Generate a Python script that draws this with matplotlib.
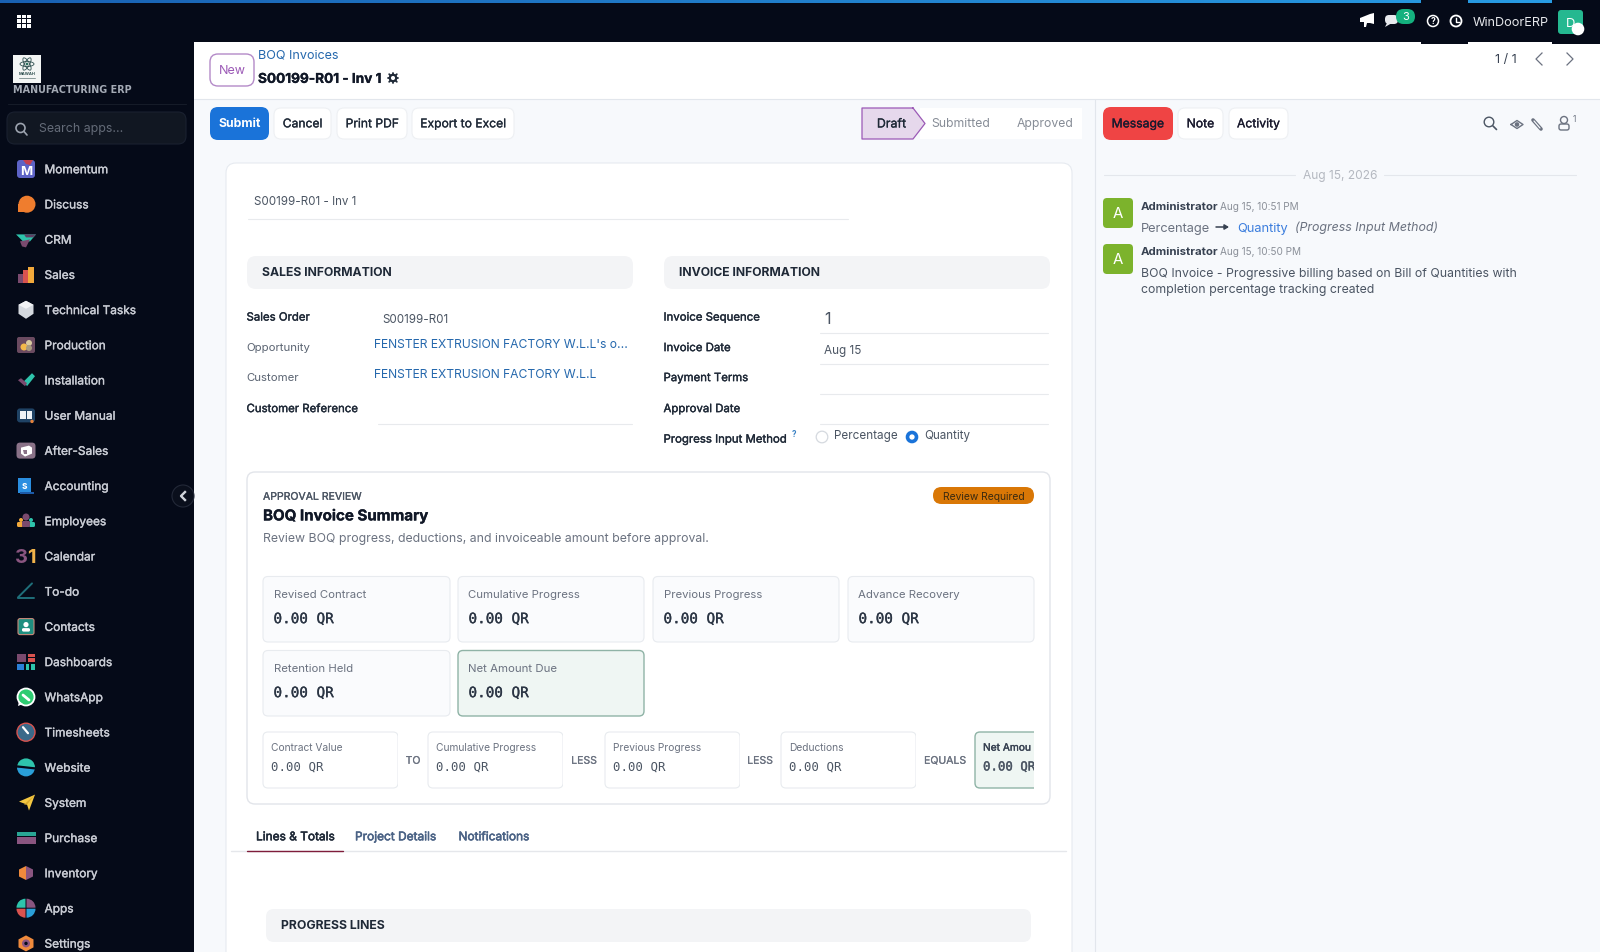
import matplotlib
matplotlib.use("Agg")
import matplotlib.pyplot as plt
import matplotlib.patheffects as pe
import numpy as np
from matplotlib.patches import FancyBboxPatch, Circle, Ellipse, Polygon, Rectangle, Wedge

plt.rcParams["font.family"] = ["Inter", "DejaVu Sans"]

# ---- content ----
SIDEBAR_ITEMS = ["Momentum", "Discuss", "CRM", "Sales", "Technical Tasks", "Production",
                 "Installation", "User Manual", "After-Sales", "Accounting", "Employees",
                 "Calendar", "To-do", "Contacts", "Dashboards", "WhatsApp", "Timesheets",
                 "Website", "System", "Purchase", "Inventory", "Apps", "Settings"]
TOOLBAR_BUTTONS = ["Cancel", "Print PDF", "Export to Excel"]
STEPS = ["Draft", "Submitted", "Approved"]
CHAT_BUTTONS = ["Message", "Note", "Activity"]
SALES_LABELS = ["Sales Order", "Opportunity", "Customer", "Customer Reference"]
SALES_VALUES = ["S00199-R01", "FENSTER EXTRUSION FACTORY W.L.L's o...",
                "FENSTER EXTRUSION FACTORY W.L.L", ""]
INVOICE_LABELS = ["Invoice Sequence", "Invoice Date", "Payment Terms", "Approval Date",
                  "Progress Input Method"]
INVOICE_VALUES = ["1", "Aug 15", "", ""]
RADIO_OPTIONS = ["Percentage", "Quantity"]
SUMMARY_LABELS = ["Revised Contract", "Cumulative Progress", "Previous Progress",
                  "Advance Recovery", "Retention Held", "Net Amount Due"]
SUMMARY_VALUES = ["0.00 QR", "0.00 QR", "0.00 QR", "0.00 QR", "0.00 QR", "0.00 QR"]
FLOW_LABELS = ["Contract Value", "Cumulative Progress", "Previous Progress", "Deductions", "Net Amou"]
FLOW_VALUES = ["0.00 QR", "0.00 QR", "0.00 QR", "0.00 QR", "0.00 QR"]
FLOW_OPERATORS = ["TO", "LESS", "LESS", "EQUALS"]
TABS = ["Lines & Totals", "Project Details", "Notifications"]

DARK = "#050a18"
INK = "#1f2937"
GREY = "#6b7280"
MONO = "DejaVu Sans Mono"

fig = plt.figure(figsize=(16, 9.52), dpi=100, facecolor="#f7f9fc")
ax = fig.add_axes([0, 0, 1, 1])
ax.set_axis_off()


def px(size):
    return size * 72 / 100


def box(x0, y0, x1, y1, r=0, fc="white", ec="none", lw=0.8, z=1, **kw):
    if r:
        p = FancyBboxPatch((x0, y0), x1 - x0, y1 - y0, boxstyle=f"round,pad=0,rounding_size={r}",
                           fc=fc, ec=ec, lw=lw, zorder=z, **kw)
    else:
        p = Rectangle((x0, y0), x1 - x0, y1 - y0, fc=fc, ec=ec, lw=lw, zorder=z, **kw)
    ax.add_patch(p)
    return p


# y is the visual middle of the capitals, baseline sits a bit below it
# stroke fakes the medium weights that Inter does not give us here
def txt(x, y, s, size=13, color=INK, weight="normal", ha="left", z=5, stroke=0, **kw):
    t = ax.text(x, y + 0.36 * size, s, fontsize=px(size), color=color, fontweight=weight, ha=ha,
                va="baseline", zorder=z, **kw)
    if stroke:
        t.set_path_effects([pe.withStroke(linewidth=stroke, foreground=color)])
    return t


def line(x0, x1, y0, y1=None, color="#e5e7eb", lw=0.8, z=2):
    ax.plot([x0, x1], [y0, y0 if y1 is None else y1], color=color, lw=lw, zorder=z,
            solid_capstyle="round")


def poly(pts, color, ox=0, oy=0, z=6):
    ax.add_patch(Polygon([(ox + a, oy + b) for a, b in pts], closed=True, fc=color, ec="none", zorder=z))


def circ(x, y, r, fc, ec="none", lw=1, z=6):
    ax.add_patch(Circle((x, y), r, fc=fc, ec=ec, lw=lw, zorder=z))


# ---- frame ----
box(194, 42, 1600, 99, fc="white")
line(194, 1600, 99, color="#e2e6ec")
box(0, 0, 194, 952, fc=DARK, z=3)
box(0, 0, 1600, 42, fc=DARK, z=3)
box(1421, 42, 1468, 44, fc=DARK, z=3)
box(1552, 42, 1600, 44, fc=DARK, z=3)

# progress strip on top of the navbar
ramp = np.linspace(0, 1, 256)[None, :, None]
start, stop = np.array([0.10, 0.38, 0.70]), np.array([0.16, 0.62, 0.90])
ax.imshow(start + (stop - start) * ramp, extent=(0, 1600, 3, 0), aspect="auto", zorder=4)
box(1421, 0, 1468, 3, fc=DARK, z=4)
box(1552, 0, 1600, 3, fc=DARK, z=4)

# app grid
for i in range(3):
    for j in range(3):
        box(17.3 + i * 4.9, 14.5 + j * 4.9, 20.9 + i * 4.9, 18.1 + j * 4.9, fc="white", z=6)

# navbar icons
poly([(-7, -2), (3, -6), (7, -7), (7, 4), (3, 3), (0, 3), (-1, 7), (-3, 7), (-3, 2), (-7, 2)], "white", 1367, 20)
ax.add_patch(FancyBboxPatch((1385, 15), 13, 9, boxstyle="round,pad=0,rounding_size=4", fc="#e8eaee", ec="none", zorder=6))
poly([(1387, 23), (1385, 27), (1392, 23)], "#e8eaee")
box(1396, 9, 1415, 24, r=7.5, fc="#14b17e", z=7)
txt(1405.5, 16.5, "3", 11, "white", ha="center", z=8)
circ(1433, 21, 5.5, "none", "white", 1.1)
txt(1433, 21, "?", 8.5, "white", "bold", ha="center", z=7)
circ(1456, 21, 5.5, "none", "white", 1.3)
ax.plot([1456, 1456, 1459], [17.5, 21.5, 21.5], color="white", lw=1, zorder=7)
txt(1473, 21, "WinDoorERP", 12.7, "#e5e7eb", z=6)
box(1558, 10, 1583, 34, r=3, fc="#25b890", z=6)
txt(1571, 22, "D", 13, "white", ha="center", z=7)
circ(1578, 29, 6.3, "white", z=8)

# logo
box(13, 55, 41, 83, fc="#f3f5f4", z=5)
for ang in [0, 60, 120]:
    ax.add_patch(Ellipse((27, 64), 14, 5, angle=ang, fc="none", ec="#2f4f4f", lw=0.6, zorder=6))
circ(27, 64, 1.4, "#2f6f5f", z=6)
txt(27, 74, "MAWAH", 4, "#2f4f4f", "bold", ha="center", z=6)
line(19, 35, 78, color="#8a9a9a", lw=0.7, z=6)
txt(13, 90, "MANUFACTURING ERP", 9.6, "#a4aab5", "bold", z=6, family="DejaVu Sans")
line(8, 186, 104, color="#151b28", z=5)
box(7, 112, 186, 144, r=8, fc="#111722", ec="#1a2130", z=5)
circ(20.5, 128, 4.5, "none", "#9ca3af", 1.2)
line(24, 27, 131.5, 135, color="#9ca3af", lw=1.2, z=6)
txt(39, 128, "Search apps...", 12.4, "#646b78", z=6)


# ---- sidebar icons, all relative to their centre ----
def ic_momentum(x, y):
    box(x - 9, y - 9, x + 9, y + 9, r=3, fc="#5d63c6", z=6)
    poly([(-3, -9), (7, -9), (4, -4), (0, -5)], "#c2404f", x, y)
    txt(x, y + 1.5, "M", 13, "white", "bold", ha="center", z=7)


def ic_discuss(x, y):
    circ(x + 1, y, 8.5, "#ef7d2e")
    box(x - 8, y, x, y + 8, fc="#ef7d2e", z=6)


def ic_crm(x, y):
    poly([(-10, -5), (10, -5), (4, 2), (-3, 2)], "#2ec4ac", x, y)
    poly([(-6, 2), (4, 0), (0, 8), (-4, 7)], "#7a4a6e", x, y)
    poly([(-2, -5), (10, -5), (7, -2), (0, -2)], "#5d3f62", x, y)


def ic_sales(x, y):
    box(x - 8, y - 1, x - 3, y + 8, fc="#7a4a6e", z=6)
    box(x - 3, y - 5, x + 2, y + 8, fc="#d9534f", z=6)
    box(x + 2, y - 8, x + 8, y + 8, fc="#f2a93b", z=6)


def ic_tech(x, y):
    poly([(0, -9), (7.5, -5), (7.5, 4), (0, 9), (-7.5, 4), (-7.5, -5)], "#d5d9df", x, y)
    poly([(0, -9), (7.5, -5), (0, -1), (-7.5, -5)], "#f2f3f5", x, y)


def ic_production(x, y):
    box(x - 9, y - 8, x + 9, y + 8, r=2, fc="#6a4a60", z=6)
    circ(x - 2, y + 2, 3.5, "#f2b84b")
    circ(x + 3, y - 2, 3, "#d8c9a0")
    circ(x + 3, y + 3, 3, "#a89a80")


def ic_install(x, y):
    poly([(-2, 1), (6, -7), (9, -4), (1, 6)], "#2ec4ac", x, y)
    poly([(-8, 0), (-5, -2), (1, 3), (-1, 6)], "#7a4a6e", x, y)


def ic_manual(x, y):
    box(x - 9, y - 7, x + 9, y + 7, r=3, fc="#1f4264", z=6)
    box(x - 6, y - 4, x - 0.5, y + 4, fc="#eef2f6", z=7)
    box(x + 0.5, y - 4, x + 6, y + 4, fc="#eef2f6", z=7)
    circ(x + 6, y + 6, 1.7, "#e6813a", z=8)


def ic_aftersales(x, y):
    box(x - 9.5, y - 8, x + 9.5, y + 8, r=3.5, fc="#8a7288", z=6)
    poly([(-5, -3), (3, -5), (6, -3), (6, 3), (-1, 6), (-5, 3)], "white", x, y, z=7)
    poly([(-3, -1), (1, -1), (1, 3), (-2, 3)], "#8a7288", x, y, z=8)


def ic_accounting(x, y):
    box(x - 8, y - 8, x + 5, y + 7, fc="#2a8ee0", z=6)
    box(x - 6, y + 6, x + 8, y + 8, fc="#1c5aa8", z=6)
    txt(x - 2, y, "s", 10, "white", "bold", ha="center", z=7)


def ic_employees(x, y):
    circ(x, y - 4, 3.5, "#7a4a6e")
    circ(x - 5, y - 1, 2, "#f2a93b")
    circ(x + 5, y - 1, 2, "#2ec4ac")
    box(x - 9, y + 1, x - 3, y + 6, r=1.5, fc="#f2a93b", z=6)
    box(x + 3, y + 1, x + 9, y + 6, r=1.5, fc="#2ec4ac", z=6)
    box(x - 4, y, x + 4, y + 6, r=1.5, fc="#7a4a6e", z=7)


def ic_calendar(x, y):
    txt(x - 4.5, y, "3", 20, "#8a5580", "bold", ha="center", z=6)
    txt(x + 5.5, y, "1", 20, "#f0b24a", "bold", ha="center", z=6)


def ic_todo(x, y):
    line(x - 8, x + 6, y + 6, y - 8, color="#1f6f7a", lw=1.4, z=6)
    line(x - 8, x + 8, y + 7, color="#1f6f7a", lw=1.4, z=6)


def ic_contacts(x, y):
    box(x - 8, y - 8, x + 8, y + 8, r=2, fc="#1f8f80", ec="#c98a7a", z=6)
    circ(x, y - 2, 2.6, "white", z=7)
    box(x - 4, y + 1.5, x + 4, y + 5, r=1.5, fc="white", z=7)


def ic_dashboards(x, y):
    box(x - 9, y - 8, x + 0, y + 0, fc="#7a4a6e", z=6)
    box(x + 2, y - 8, x + 9, y - 5, fc="#d9534f", z=6)
    box(x + 2, y - 3.5, x + 9, y + 0, fc="#d9534f", z=6)
    box(x - 9, y + 2, x - 2, y + 8, fc="#2a7fd8", z=6)
    box(x, y + 2, x + 3, y + 8, fc="#2ec4ac", z=6)
    box(x + 5, y + 2, x + 9, y + 8, fc="#2ec4ac", z=6)


def ic_whatsapp(x, y):
    circ(x, y, 8.5, "#2ecc71", "white", 1.3)
    poly([(-8, 9), (-7, 4), (-3, 7)], "white", x, y)
    line(x - 3, x + 3, y - 2, y + 3, color="white", lw=2, z=7)


def ic_timesheets(x, y):
    circ(x, y, 9, "#3a6a8a", "#d9534f", 1)
    line(x - 3, x + 2, y - 5, y + 1, color="white", lw=1.6, z=7)


def ic_website(x, y):
    ax.add_patch(Wedge((x, y), 9, 180, 360, fc="#2ec4ac", zorder=6))
    ax.add_patch(Wedge((x, y), 9, 0, 180, fc="#2a9fd8", zorder=6))
    line(x - 9, x + 9, y - 1, y + 1, color=DARK, lw=1.6, z=7)


def ic_system(x, y):
    poly([(-7, -1), (9, -8), (3, 8), (1, 2)], "#f5c842", x, y)
    poly([(9, -8), (1, 2), (-2, 2)], "#d9a92c", x, y)


def ic_purchase(x, y):
    box(x - 9.5, y - 6, x + 9.5, y - 1.5, fc="#2aa594", z=6)
    box(x - 9.5, y - 0.5, x + 9.5, y + 6, fc="#8a5580", z=6)


def ic_inventory(x, y):
    poly([(0, -7), (7, -3.5), (7, 3.5), (0, 7)], "#8a5580", x, y)
    poly([(0, -7), (-7, -3.5), (-7, 3.5), (0, 7)], "#ef8a3c", x, y)


def ic_apps(x, y):
    ax.add_patch(Wedge((x - 0.5, y - 0.5), 9, 180, 270, fc="#2ec4ac", zorder=6))
    ax.add_patch(Wedge((x + 0.5, y - 0.5), 9, 270, 360, fc="#8a5580", zorder=6))
    ax.add_patch(Wedge((x - 0.5, y + 0.5), 9, 90, 180, fc="#d9534f", zorder=6))
    ax.add_patch(Wedge((x + 0.5, y + 0.5), 9, 0, 90, fc="#2a9fd8", zorder=6))


def ic_settings(x, y):
    poly([(0, -8), (7.5, -4), (7.5, 4), (0, 8), (-7.5, 4), (-7.5, -4)], "#ef8a3c", x, y)
    circ(x, y, 4, "#8a5580", z=7)
    circ(x, y, 1.7, DARK, z=8)


SIDEBAR_ICONS = [ic_momentum, ic_discuss, ic_crm, ic_sales, ic_tech, ic_production, ic_install,
                 ic_manual, ic_aftersales, ic_accounting, ic_employees, ic_calendar, ic_todo,
                 ic_contacts, ic_dashboards, ic_whatsapp, ic_timesheets, ic_website, ic_system,
                 ic_purchase, ic_inventory, ic_apps, ic_settings]

for i, name in enumerate(SIDEBAR_ITEMS):
    y = 169 + i * 35.2
    SIDEBAR_ICONS[i](26, y)
    txt(44.5, y, name, 11.9, "#c9ccd4", z=6, stroke=0.25)

# collapse handle
box(194, 480, 200, 512, fc="#f7f9fc", z=2)
circ(183, 496, 11, "#0a0f1c", "#232938", 0.8, z=5)
ax.plot([185, 181, 185], [492, 496, 500], color="#d1d5db", lw=1.7, zorder=7)

# ---- page header ----
box(210, 54, 254, 86, r=8, fc="white", ec="#b48ac8", lw=1)
txt(232, 70, "New", 12.5, "#9b59b6", ha="center")
txt(258, 54, "BOQ Invoices", 12.6, "#2568ad")
txt(258, 78, "S00199-R01 - Inv 1", 13.6, "#111827", "bold", stroke=0.2)
# gear next to the title
circ(393, 78, 3.2, "none", "#1f2937", 1.6)
for ang in np.arange(0, 360, 45):
    a = np.deg2rad(ang)
    line(393 + 3.6 * np.cos(a), 393 + 5.4 * np.cos(a), 78 + 3.6 * np.sin(a), 78 + 5.4 * np.sin(a),
         color="#1f2937", lw=1.3, z=5)
txt(1506, 59, "1 / 1", 12.5, "#374151", ha="center")
for cx, sgn in zip([1539, 1570], [1, -1]):
    ax.plot([cx + 3 * sgn, cx - 3 * sgn, cx + 3 * sgn], [53, 59, 65], color="#6b7280", lw=0.9, zorder=5)

# ---- toolbar ----
box(210, 107, 269, 140, r=8, fc="#1a73d9")
txt(239.5, 123, "Submit", 12.3, "white", "bold", ha="center")
edges = [(274, 331), (337, 407), (412, 514)]
for (a, b), name in zip(edges, TOOLBAR_BUTTONS):
    box(a, 108, b, 139, r=7, fc="white", ec="#eef0f3")
    txt((a + b) / 2, 123, name, 12.1, "#1f2937", ha="center", stroke=0.2)

box(920, 108, 1082, 139, fc="white")
poly([(862, 108), (913, 108), (925, 123.5), (913, 139), (862, 139)], "#e6d8ec", z=2)
ax.plot([913, 862, 862, 913, 925, 913], [108, 108, 139, 139, 123.5, 108], color="#9b59b6", lw=0.9, zorder=3)
step_x = [890.5, 961, 1045]
for i, (cx, name) in enumerate(zip(step_x, STEPS)):
    txt(cx + (1 if i == 0 else 0), 123, name, 12.4 if i == 0 else 12.2, "#1f2937" if i == 0 else "#868c96",
        ha="center", stroke=0.2 if i == 0 else 0)

# ---- timeline panel ----
line(1095, 1095, 99, 952, color="#e2e6ec")
box(1103, 107, 1173, 140, r=8, fc="#ef4444")
chat_edges = [(1103, 1173), (1178, 1223), (1229, 1288)]
for i, ((a, b), name) in enumerate(zip(chat_edges, CHAT_BUTTONS)):
    if i:
        box(a, 108, b, 139, r=7, fc="white", ec="#eef0f3")
    txt((a + b) / 2, 123, name, 12.2, "#1a1a2e", ha="center", stroke=0.2)
circ(1489, 122, 4.8, "none", "#4b5563", 1)
line(1493, 1496.5, 126, 129.5, color="#4b5563", lw=1.2)
ax.plot([1511, 1517, 1523, 1517, 1511], [124.5, 120.5, 124.5, 128.5, 124.5], color="#6b7280", lw=1, zorder=5)
circ(1517, 124.5, 2.3, "#6b7280")
line(1533, 1541, 120, 129, color="#6b7280", lw=2.6)
line(1534, 1540, 121, 128, color="#f7f9fc", lw=0.9, z=3)
circ(1564, 120, 3.5, "none", "#6b7280", 1)
box(1559, 124, 1569, 130, r=2, fc="none", ec="#6b7280", lw=1, z=5)
txt(1574, 119, "1", 8.5, "#6b7280", ha="center")

line(1104, 1295, 174.5, color="#e4e7ec")
line(1384, 1576, 174.5, color="#e4e7ec")
txt(1340, 175, "Aug 15, 2026", 12, "#b4b8c0", ha="center")
for ytop in [198, 244]:
    box(1103, ytop, 1133, ytop + 30, r=4, fc="#7cb32c")
    txt(1118, ytop + 15, "A", 15, "white", ha="center")
txt(1141, 206, "Administrator", 11.4, "#374151", "bold")
txt(1220, 206.5, "Aug 15, 10:51 PM", 10, "#8b9099")
txt(1141, 227, "Percentage", 12.8, "#6b7280")
ax.annotate("", xy=(1229, 227), xytext=(1216, 227), zorder=5,
            arrowprops=dict(arrowstyle="-|>,head_width=0.15,head_length=0.25", color="#374151", lw=1.1, shrinkA=0, shrinkB=0))
txt(1237, 227, "Quantity", 12.8, "#3b7ddd")
txt(1295, 227, "(Progress Input Method)", 12.4, "#6b7280", style="italic")
txt(1141, 251, "Administrator", 11.4, "#374151", "bold")
txt(1220, 251.5, "Aug 15, 10:50 PM", 10, "#8b9099")
txt(1141, 273, "BOQ Invoice - Progressive billing based on Bill of Quantities with", 12.3, "#4b5563")
txt(1141, 289, "completion percentage tracking created", 12.3, "#4b5563")

# ---- main form card ----
box(226, 163, 1072, 1000, r=10, fc="white", ec="#e6eaf0")
txt(254, 201, "S00199-R01 - Inv 1", 11.6, "#4b5563")
line(248, 848, 219, color="#e8eaed")

for x0, x1, name in [(247, 633, "SALES INFORMATION"), (664, 1050, "INVOICE INFORMATION")]:
    box(x0, 256, x1, 289, r=9, fc="#f3f4f6")
    txt(x0 + 15, 272, name, 12.2, "#1f2937", "bold")

left_y = [316.5, 347, 377, 408]
for i, (y, name) in enumerate(zip(left_y, SALES_LABELS)):
    dark = i in (0, 3)
    txt(246.5, y, name, 11.4, "#1f2937" if dark else "#5b6472", stroke=0.25 if dark else 0)
txt(382, 319, SALES_VALUES[0], 11.6, "#4b5563")
txt(374, 344, SALES_VALUES[1], 12.1, "#2568ad")
txt(374, 374, SALES_VALUES[2], 12.1, "#2568ad")
line(378, 632, 424, color="#e8eaed")

right_y = [316.5, 347, 377, 408, 438.5]
for y, name in zip(right_y, INVOICE_LABELS):
    txt(663.5, y, name, 11.4, "#1f2937", stroke=0.25)
txt(824, 318, INVOICE_VALUES[0], 16, "#4b5563")
txt(824, 349.5, INVOICE_VALUES[1], 11.7, "#4b5563")
for y in [333, 364, 394, 424]:
    line(820, 1048, y, color="#e8eaed")
txt(794, 434, "?", 8, "#3b82c4", "bold", ha="center")
circ(822, 437, 5.8, "white", "#d5d9df", 0.9)
txt(834, 435, RADIO_OPTIONS[0], 11.7, "#4b5563")
circ(912, 437, 4.5, "white", "#1a73d9", 2.6)
txt(924, 435, RADIO_OPTIONS[1], 11.6, "#4b5563")

# ---- summary card ----
box(247, 472, 1050, 804, r=8, fc="white", ec="#e2e5ea", lw=1)
txt(263, 496, "APPROVAL REVIEW", 10.5, "#4b5563", stroke=0.2)
txt(263, 515, "BOQ Invoice Summary", 15.1, "#111827", "bold", stroke=0.2)
txt(263, 538, "Review BOQ progress, deductions, and invoiceable amount before approval.", 12.3, "#6b7280")
box(933, 487, 1034, 504, r=8.5, fc="#d97706")
txt(983.5, 496, "Review Required", 10.3, "#3a2a10", ha="center")

card_x = [(263, 450), (458, 644), (653, 839), (848, 1034)]
for i, (name, val) in enumerate(zip(SUMMARY_LABELS, SUMMARY_VALUES)):
    a, b = card_x[i % 4]
    top = 576.5 + (i // 4) * 74
    is_net = name == "Net Amount Due"
    box(a, top, b, top + 65.5, r=5, fc="#eff6f3" if is_net else "#fafbfd",
        ec="#8fb3a6" if is_net else "#e8ebef", lw=1 if is_net else 0.8)
    txt(a + 10.5, top + 17, name, 11.4, "#6b7280")
    txt(a + 10.5, top + 41.5, val, 14.3, "#2b3544", family=MONO, stroke=0.2)

flow_x = [(263, 398), (428, 563), (605, 740), (781, 916), (975, 1034)]
for i, (name, val) in enumerate(zip(FLOW_LABELS, FLOW_VALUES)):
    a, b = flow_x[i]
    is_net = i == 4
    p = box(a, 732, b + (30 if is_net else 0), 788, r=5, fc="#eff6f3" if is_net else "white",
            ec="#8fb3a6" if is_net else "#e8ebef", lw=1 if is_net else 0.8)
    clip = Rectangle((a - 3, 728), b - a + 3, 64, transform=ax.transData)
    p.set_clip_path(clip)
    t1 = txt(a + 8, 747, name, 10.2, "#374151" if is_net else "#6b7280", stroke=0.25 if is_net else 0)
    t2 = txt(a + 8, 766, val, 12.4, "#4b5563", family=MONO, stroke=0.25 if is_net else 0)
    for t in (t1, t2):
        t.set_clip_on(True)
        t.set_clip_path(clip)
for cx, name in zip([413, 584, 760, 945], FLOW_OPERATORS):
    txt(cx, 760, name, 10.5, "#6b7280", ha="center", stroke=0.15)

# ---- tabs ----
line(231, 1066, 851, color="#e5e7eb", lw=1)
line(247, 343, 851, color="#7f1d3a", lw=1, z=3)
for x, name, col in zip([256, 355, 458.5], TABS, ["#1f2937", "#4a6285", "#4a6285"]):
    txt(x, 836, name, 11.9, col, stroke=0.4)

box(266, 909, 1031, 942, r=8, fc="#f3f4f6")
txt(281, 925, "PROGRESS LINES", 12.3, "#1f2937", "bold")

ax.set_xlim(0, 1600)
ax.set_ylim(952, 0)
fig.savefig("out.png", dpi=100, facecolor=fig.get_facecolor())
